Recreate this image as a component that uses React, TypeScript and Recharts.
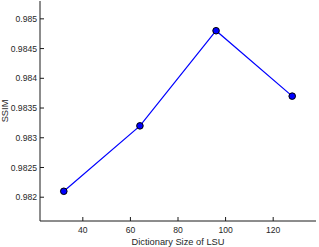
import { LineChart, Line, XAxis, YAxis, Label } from "recharts";

const dictSizes = [32, 64, 96, 128];
const ssimValues = [0.9821, 0.9832, 0.9848, 0.9837];
const xTicks = [40, 60, 80, 100, 120];
const yTicks = [0.982, 0.9825, 0.983, 0.9835, 0.984, 0.9845, 0.985];

const chartData = dictSizes.map((size, i) => ({ size, ssim: ssimValues[i] }));

const FONT = '"Liberation Sans", Arial, sans-serif';
const TICK_LEN = 4;
const AXIS_COLOR = "#1a1a1a";
const TEXT_COLOR = "#262626";

function BottomTick({ x, y, payload }: any) {
  return (
    <g>
      <line x1={x} y1={y} x2={x} y2={y - TICK_LEN} stroke={AXIS_COLOR} />
      <text x={x} y={y + 12} textAnchor="middle" fontSize={8.6} fill={TEXT_COLOR} fontFamily={FONT}>
        {payload.value}
      </text>
    </g>
  );
}

function TopTick({ x, y }: any) {
  return <line x1={x} y1={y} x2={x} y2={y + TICK_LEN} stroke={AXIS_COLOR} />;
}

function LeftTick({ x, y, payload }: any) {
  return (
    <g>
      <line x1={x} y1={y} x2={x + TICK_LEN} y2={y} stroke={AXIS_COLOR} />
      <text x={x - 3} y={y + 3.1} textAnchor="end" fontSize={8.6} fill={TEXT_COLOR} fontFamily={FONT}>
        {payload.value}
      </text>
    </g>
  );
}

function RightTick({ x, y }: any) {
  return <line x1={x} y1={y} x2={x - TICK_LEN} y2={y} stroke={AXIS_COLOR} />;
}

export default function App() {
  return (
    <div style={{ position: "absolute", left: 0, top: 0, width: 319, height: 247, background: "#fff" }}>
      <LineChart width={319} height={247} data={chartData} margin={{ top: 1, right: 3, bottom: 0, left: 0 }}>
        <XAxis
          dataKey="size"
          type="number"
          domain={[22, 138]}
          ticks={xTicks}
          allowDataOverflow
          height={26}
          tickSize={0}
          tickMargin={0}
          tickLine={false}
          axisLine={{ stroke: AXIS_COLOR }}
          tick={<BottomTick />}
        >
          <Label
            content={() => (
              <text x={178} y={245.3} textAnchor="middle" fontSize={9.3} fill={TEXT_COLOR} fontFamily={FONT}>
                Dictionary Size of LSU
              </text>
            )}
          />
        </XAxis>
        <XAxis
          xAxisId="top"
          orientation="top"
          dataKey="size"
          type="number"
          domain={[22, 138]}
          ticks={xTicks}
          allowDataOverflow
          height={0}
          tickSize={0}
          tickMargin={0}
          tickLine={false}
          axisLine={{ stroke: AXIS_COLOR }}
          tick={<TopTick />}
        />
        <YAxis
          type="number"
          domain={[0.9816, 0.9853]}
          ticks={yTicks}
          allowDataOverflow
          width={40}
          tickSize={0}
          tickMargin={0}
          tickLine={false}
          axisLine={{ stroke: AXIS_COLOR }}
          tick={<LeftTick />}
        >
          <Label
            content={() => (
              <text
                x={7.5}
                y={111}
                textAnchor="middle"
                fontSize={9.3}
                fill={TEXT_COLOR}
                fontFamily={FONT}
                transform="rotate(-90, 7.5, 111)"
              >
                SSIM
              </text>
            )}
          />
        </YAxis>
        <YAxis
          yAxisId="right"
          orientation="right"
          type="number"
          domain={[0.9816, 0.9853]}
          ticks={yTicks}
          allowDataOverflow
          width={0}
          tickSize={0}
          tickMargin={0}
          tickLine={false}
          axisLine={{ stroke: AXIS_COLOR }}
          tick={<RightTick />}
        />
        <Line
          type="linear"
          dataKey="ssim"
          stroke="#0000ff"
          strokeWidth={1.2}
          dot={{ r: 3.3, fill: "#0000ff", stroke: "#000", strokeWidth: 1 }}
          isAnimationActive={false}
        />
      </LineChart>
    </div>
  );
}
